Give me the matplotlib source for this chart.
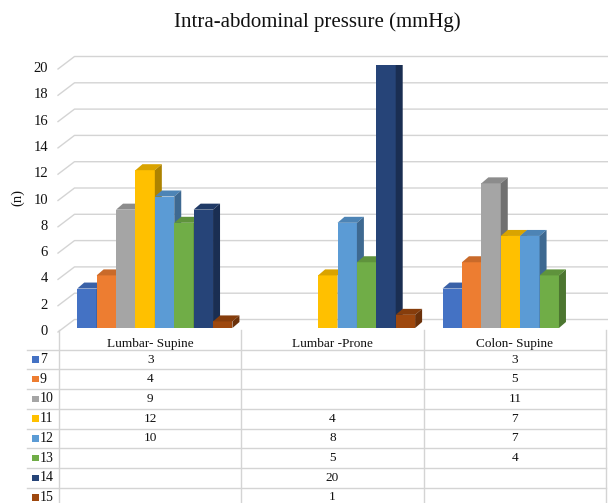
import matplotlib.pyplot as plt
from matplotlib.patches import Polygon, Rectangle

plt.rcParams['font.family'] = ['Liberation Serif', 'DejaVu Serif']

categories = ['Lumbar- Supine', 'Lumbar -Prone', 'Colon- Supine']
series_labels = ['7', '9', '10', '11', '12', '13', '14', '15']
colors = ['#4472C4', '#ED7D31', '#A5A5A5', '#FFC000',
          '#5B9BD5', '#70AD47', '#264478', '#9E480E']

# bar heights per category (None = no bar)
lumbar_supine = [3, 4, 9, 12, 10, 8, 9, 0.5]
lumbar_prone = [None, None, None, 4, 8, 5, 20, 1]
colon_supine = [3, 5, 11, 7, 7, 4, None, None]

# what the data table prints under each category
table_supine = [3, 4, 9, 12, 10, None, None, None]
table_prone = lumbar_prone
table_colon = colon_supine

yticks = list(range(0, 21, 2))
title = 'Intra-abdominal pressure (mmHg)'

W, H = 608, 503
fig = plt.figure(figsize=(W / 100, H / 100), dpi=100)

# main axes = front plane of the bars, in pixels
ax_l, ax_b, ax_w, ax_h = 63.5, 328, 548, 263
ax = fig.add_axes([ax_l / W, (H - ax_b) / H, ax_w / W, ax_h / H])
ax.set_xlim(-0.5, 2.5)
ax.set_ylim(0, 20)
ax.axis('off')

ux = ax_w / 3.0   # px per category
uy = ax_h / 20.0  # px per y unit


def shade(c, f):
    r, g, b = [int(c[i:i + 2], 16) / 255 for i in (1, 3, 5)]
    return (r * f, g * f, b * f)


# floor-to-wall gridlines (front corner -> back wall -> right)
grid_c = '#d4d4d4'
for v in yticks:
    xs = [-0.5 - 5.5 / ux, -0.5 + 11 / ux, 2.5 + 2 / ux]
    ys = [v - 4 / uy, v + 8.5 / uy, v + 8.5 / uy]
    ax.plot(xs, ys, color=grid_c, lw=1, clip_on=False, zorder=1)
    ax.text(-0.5 - 15.5 / ux, v - 3.5 / uy, str(v), ha='right', va='center',
            fontsize=10.5, color='#111111')

# 3d-looking columns
bw = 19.4 / ux
ddx, ddy = 7 / ux, 6 / uy
groups = [lumbar_supine, lumbar_prone, colon_supine]
for c, vals in enumerate(groups):
    for i, h in enumerate(vals):
        if h is None:
            continue
        z = 2 + i * 0.1
        x0 = c + (i - 3.5) * bw - bw / 2
        x1 = x0 + bw
        col = colors[i]
        ax.bar(x0, h, width=bw, align='edge', color=col, edgecolor='none',
               zorder=z)
        top = Polygon([(x0, h), (x1, h), (x1 + ddx, h + ddy), (x0 + ddx, h + ddy)],
                      closed=True, facecolor=shade(col, 0.85), edgecolor='none',
                      zorder=z)
        side = Polygon([(x1, 0), (x1, h), (x1 + ddx, h + ddy), (x1 + ddx, ddy)],
                       closed=True, facecolor=shade(col, 0.68), edgecolor='none',
                       zorder=z)
        ax.add_patch(top)
        ax.add_patch(side)

fig.text(317 / W, 1 - 22 / H, title, ha='center', va='center', fontsize=15,
         color='#111111')
fig.text(18 / W, 1 - 198 / H, '(n)', ha='center', va='center', rotation=90,
         fontsize=10.5, color='#111111')

# data table under the chart
row_h = 19.7
t_top = 330
tax = fig.add_axes([59 / W, (H - (t_top + 9 * row_h)) / H, 547 / W, 9 * row_h / H])
tax.set_xlim(0, 3)
tax.set_ylim(9, 0)
tax.axis('off')
tx = 547 / 3.0
x_left = (27 - 59) / tx

for r in range(1, 9):
    tax.plot([x_left, 3], [r, r], color=grid_c, lw=1, clip_on=False)
for c in range(4):
    tax.plot([c, c], [0, 9], color=grid_c, lw=1, clip_on=False)

for c, name in enumerate(categories):
    tax.text(c + 0.5, 0.7, name, ha='center', va='center', fontsize=9.5,
             color='#111111')

table_cols = [table_supine, table_prone, table_colon]
for i, lab in enumerate(series_labels):
    yc = 1.5 + i
    tax.add_patch(Rectangle(((32 - 59) / tx, yc - 0.16), 6.5 / tx, 0.32,
                            facecolor=colors[i], edgecolor='none', clip_on=False))
    tax.text((40 - 59) / tx, yc, lab, ha='left', va='center', fontsize=10,
             color='#111111', clip_on=False)
    for c, col_vals in enumerate(table_cols):
        v = col_vals[i]
        if v is not None:
            tax.text(c + 0.5, yc, str(v), ha='center', va='center',
                     fontsize=9.5, color='#111111')

fig.savefig('out.png', dpi=100)
